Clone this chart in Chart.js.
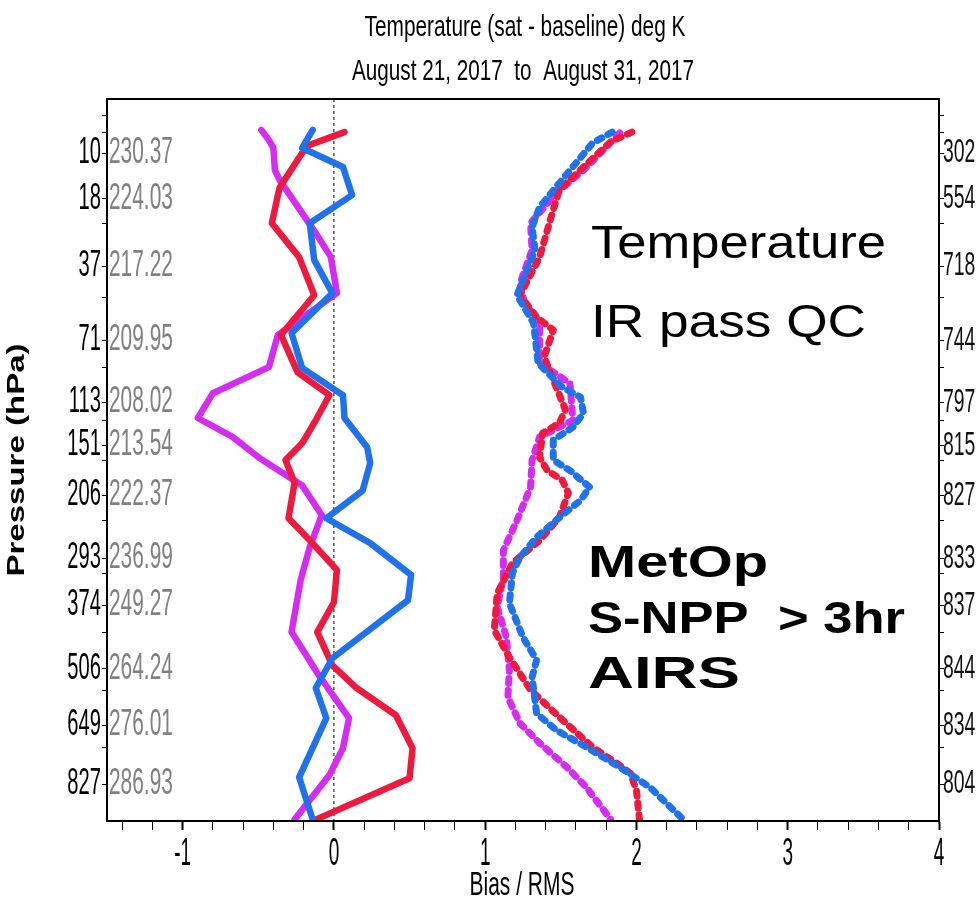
<!DOCTYPE html>
<html>
<head>
<meta charset="utf-8">
<script src="https://cdn.jsdelivr.net/npm/chart.js@4.4.0/dist/chart.umd.min.js"></script>
<style>
html, body { margin: 0; padding: 0; background: #fff; }
canvas { display: block; }
</style>
</head>
<body>
<canvas id="profileChart" width="978" height="910"></canvas>
<script>
// levels shown on the axes, with mean temperature (left, grey) and obs count (right)
const levels = [10, 18, 37, 71, 113, 151, 206, 293, 374, 506, 649, 827];
const levelTemps = ['230.37', '224.03', '217.22', '209.95', '208.02', '213.54', '222.37', '236.99', '249.27', '264.24', '276.01', '286.93'];
const levelCounts = ['302', '554', '718', '744', '797', '815', '827', '833', '837', '844', '834', '804'];
const minorLevels = [5.6, 7.35, 23.8, 49.3, 87.5, 128, 166, 238, 317, 426, 557, 712];
const xTicks = [-1.4, -1.2, -1, -0.8, -0.6, -0.4, -0.2, 0, 0.2, 0.4, 0.6, 0.8, 1, 1.2, 1.4, 1.6, 1.8, 2,
    2.2, 2.4, 2.6, 2.8, 3, 3.2, 3.4, 3.6, 3.8, 4];
const pTop = 4.25;
const pBottom = 955;

// bias (solid lines): pressure (hPa) and value
const biasMagentaP = [7.1, 8.3, 9.3, 12.6, 14.3, 21.3, 26.5, 33.9, 47.6, 68, 87.5, 106, 126, 143, 164, 194, 231, 276, 329, 426, 521, 630, 715, 798, 950];
const biasMagenta = [-0.48, -0.43, -0.40, -0.39, -0.36, -0.21, -0.12, -0.02, 0.02, -0.37, -0.43, -0.80, -0.90, -0.67, -0.49, -0.21, -0.08, -0.16, -0.22, -0.28, -0.10, 0.10, 0.06, -0.03, -0.26];
const biasRedP = [7.35, 8.9, 10, 15.8, 23.8, 33.9, 48.5, 68, 91, 107.5, 128, 149, 166, 191, 235, 266, 312, 368, 426, 498, 552, 622, 715, 808, 950];
const biasRed = [0.07, -0.16, -0.21, -0.36, -0.41, -0.23, -0.13, -0.35, -0.24, -0.03, -0.12, -0.21, -0.32, -0.26, -0.30, -0.16, 0.02, 0.00, -0.11, -0.01, 0.15, 0.41, 0.52, 0.50, -0.12];
const biasBlueP = [7.1, 9.3, 12.1, 17.25, 23.8, 34.9, 47.6, 67, 88, 107.5, 126, 153, 169, 200, 235, 270, 320, 364, 482, 552, 630, 805, 950];
const biasBlue = [-0.14, -0.21, 0.06, 0.12, -0.16, -0.13, -0.01, -0.28, -0.21, 0.06, 0.07, 0.22, 0.24, 0.19, -0.05, 0.24, 0.51, 0.49, -0.01, -0.12, -0.05, -0.23, -0.14];

// RMS (dashed lines)
const rmsMagentaP = [7.46, 12.6, 16.8, 23.8, 31.6, 43.5, 52, 61.7, 84.9, 98.6, 128, 134, 143, 166, 196, 238, 281, 324, 377, 437, 509, 575, 644, 700, 773, 838, 950];
const rmsMagenta = [1.89, 1.65, 1.47, 1.30, 1.31, 1.23, 1.26, 1.36, 1.36, 1.56, 1.58, 1.49, 1.36, 1.31, 1.30, 1.21, 1.12, 1.12, 1.08, 1.14, 1.16, 1.15, 1.23, 1.36, 1.54, 1.67, 1.83];
const rmsRedP = [7.35, 8.5, 12.1, 16.2, 23.0, 33.9, 48.5, 58.7, 65.4, 81, 101.5, 119, 130.5, 139.5, 163, 177, 188, 203, 234, 266, 301, 352, 422, 480, 557, 627, 712, 761, 792, 848, 950];
const rmsRed = [1.97, 1.83, 1.65, 1.49, 1.43, 1.36, 1.23, 1.34, 1.45, 1.39, 1.47, 1.53, 1.49, 1.38, 1.36, 1.41, 1.51, 1.55, 1.49, 1.36, 1.18, 1.08, 1.06, 1.16, 1.30, 1.49, 1.71, 1.87, 1.96, 2.00, 2.02];
const rmsBlueP = [7.35, 8.66, 14.9, 19.9, 24.8, 31.6, 48.5, 61.7, 84.9, 101.5, 109, 122, 134, 146, 166, 177, 196, 212, 234, 261.5, 291.5, 317, 370, 437, 486, 526, 617, 663, 712, 773, 838, 950];
const rmsBlue = [1.84, 1.71, 1.49, 1.36, 1.31, 1.33, 1.21, 1.32, 1.35, 1.51, 1.63, 1.65, 1.58, 1.45, 1.45, 1.56, 1.69, 1.63, 1.49, 1.34, 1.23, 1.18, 1.16, 1.25, 1.34, 1.31, 1.34, 1.47, 1.67, 1.89, 2.09, 2.31];

const RED = '#ee1a3e';
const BLUE = '#1f72ea';
const MAGENTA = '#d52cf2';

// pressure axis spaced like p^kappa (kappa = 2/7)
class PressureScale extends Chart.LinearScale {
    getPixelForValue(value) {
        const k = 2 / 7;
        const a = Math.pow(this.min, k), b = Math.pow(this.max, k);
        return this.getPixelForDecimal((Math.pow(value, k) - a) / (b - a));
    }
    getValueForPixel(pixel) {
        const k = 2 / 7;
        const a = Math.pow(this.min, k), b = Math.pow(this.max, k);
        return Math.pow(a + this.getDecimalForPixel(pixel) * (b - a), 1 / k);
    }
}
PressureScale.id = 'pkappa';
PressureScale.defaults = {};
Chart.register(PressureScale);

function toPoints(ps, xs) {
    return xs.map((v, i) => ({ x: v, y: ps[i] }));
}

function squeezeText(ctx, str, x, y, opts) {
    ctx.save();
    ctx.font = (opts.bold ? 'bold ' : '') + opts.size + 'px "Liberation Sans", Arial, sans-serif';
    ctx.fillStyle = opts.color || '#000';
    ctx.textAlign = opts.align || 'left';
    ctx.textBaseline = opts.baseline || 'middle';
    let sx = opts.sx || 1;
    if (opts.width) sx = opts.width / ctx.measureText(str).width;
    ctx.translate(x, y);
    if (opts.rotate) ctx.rotate(opts.rotate);
    ctx.scale(sx, 1);
    ctx.fillText(str, 0, 0);
    ctx.restore();
}

const textPlugin = {
    id: 'profileText',
    afterDraw(chart) {
        const ctx = chart.ctx;
        const area = chart.chartArea;
        const yScale = chart.scales.y;
        const xScale = chart.scales.x;

        ctx.save();
        ctx.strokeStyle = '#000';
        ctx.lineWidth = 2;
        ctx.strokeRect(area.left, area.top, area.right - area.left, area.bottom - area.top);
        ctx.restore();

        squeezeText(ctx, 'Temperature (sat - baseline) deg K', 525, 28, { size: 30, width: 321, align: 'center' });
        squeezeText(ctx, 'August 21, 2017  to  August 31, 2017', 523, 72, { size: 30, width: 342, align: 'center' });

        levels.forEach((p, i) => {
            const py = yScale.getPixelForValue(p);
            squeezeText(ctx, String(p), 101, py, { size: 36, sx: 0.56, align: 'right' });
            squeezeText(ctx, levelTemps[i], 109, py, { size: 36, sx: 0.58, color: '#808080' });
            squeezeText(ctx, levelCounts[i], 943, py, { size: 34, sx: 0.57, color: '#111' });
        });

        [-1, 0, 1, 2, 3, 4].forEach(v => {
            squeezeText(ctx, String(v), xScale.getPixelForValue(v), 855, { size: 38, sx: 0.5, align: 'center' });
        });
        squeezeText(ctx, 'Bias / RMS', 522, 886, { size: 34, width: 105, align: 'center' });
        squeezeText(ctx, 'Pressure (hPa)', 18, (area.top + area.bottom) / 2, { size: 23, bold: true, width: 233, align: 'center', rotate: -Math.PI / 2 });

        squeezeText(ctx, 'Temperature', 591, 258, { size: 46, width: 295, baseline: 'alphabetic' });
        squeezeText(ctx, 'IR pass QC', 591, 337, { size: 46, width: 275, baseline: 'alphabetic' });
        squeezeText(ctx, 'MetOp', 588, 577, { size: 45, bold: true, width: 180, baseline: 'alphabetic' });
        squeezeText(ctx, 'S-NPP  > 3hr', 588, 633, { size: 45, bold: true, width: 317, baseline: 'alphabetic' });
        squeezeText(ctx, 'AIRS', 588, 688, { size: 45, bold: true, width: 152, baseline: 'alphabetic' });
    }
};

function solid(data, color) {
    return { data: data, borderColor: color, borderWidth: 6.5, borderJoinStyle: 'round', borderCapStyle: 'round', pointRadius: 0, tension: 0, fill: false };
}
function dashed(data, color) {
    return { data: data, borderColor: color, borderWidth: 7, borderDash: [5, 7], borderCapStyle: 'round', borderJoinStyle: 'round', pointRadius: 0, tension: 0, fill: false };
}

const axisTicks = levels.concat(minorLevels).map(v => ({ value: v }));

new Chart(document.getElementById('profileChart').getContext('2d'), {
    type: 'line',
    data: {
        datasets: [
            solid(toPoints(biasBlueP, biasBlue), BLUE),
            solid(toPoints(biasRedP, biasRed), RED),
            solid(toPoints(biasMagentaP, biasMagenta), MAGENTA),
            dashed(toPoints(rmsBlueP, rmsBlue), BLUE),
            dashed(toPoints(rmsRedP, rmsRed), RED),
            dashed(toPoints(rmsMagentaP, rmsMagenta), MAGENTA),
            { data: [{ x: 0, y: pTop }, { x: 0, y: pBottom }], borderColor: '#000', borderWidth: 1, borderDash: [3, 3], pointRadius: 0 }
        ]
    },
    options: {
        responsive: false,
        animation: false,
        layout: { padding: { top: 99, left: 0, right: 0, bottom: 0 } },
        plugins: { legend: { display: false }, tooltip: { enabled: false } },
        scales: {
            x: {
                type: 'linear',
                min: -1.5,
                max: 4,
                afterBuildTicks: scale => { scale.ticks = xTicks.map(v => ({ value: v })); },
                afterFit: scale => { scale.height = 89; },
                ticks: { display: false },
                grid: {
                    drawOnChartArea: false,
                    tickLength: 9,
                    tickColor: '#000',
                    tickWidth: c => (c.tick && Math.abs(c.tick.value - Math.round(c.tick.value)) < 1e-6) ? 2 : 1
                },
                border: { color: '#000', width: 2 }
            },
            y: {
                type: 'pkappa',
                position: 'left',
                reverse: true,
                min: pTop,
                max: pBottom,
                afterBuildTicks: scale => { scale.ticks = axisTicks.slice(); },
                afterFit: scale => { scale.width = 107; },
                ticks: { display: false },
                grid: { drawOnChartArea: false, tickLength: 5, tickColor: '#000', tickWidth: 1 },
                border: { color: '#000', width: 2 }
            },
            y2: {
                type: 'pkappa',
                position: 'right',
                reverse: true,
                min: pTop,
                max: pBottom,
                afterBuildTicks: scale => { scale.ticks = axisTicks.slice(); },
                afterFit: scale => { scale.width = 39; },
                ticks: { display: false },
                grid: { drawOnChartArea: false, tickLength: 5, tickColor: '#000', tickWidth: 1 },
                border: { color: '#000', width: 2 }
            }
        }
    },
    plugins: [textPlugin]
});
</script>
</body>
</html>
